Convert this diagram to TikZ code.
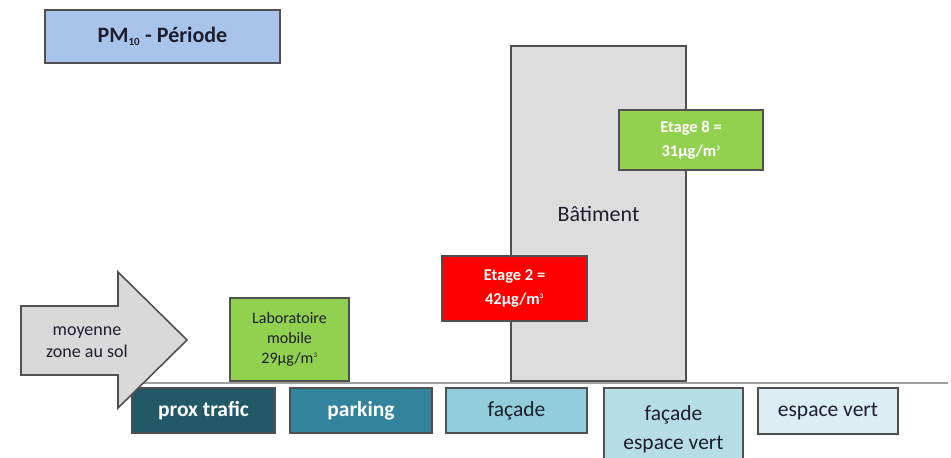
\documentclass[tikz,border=0pt]{standalone}
\usepackage{fontspec}
\setmainfont{Carlito}
\definecolor{pmblue}{RGB}{169,196,235}
\definecolor{batgray}{RGB}{221,221,221}
\definecolor{arrowgray}{RGB}{217,217,217}
\definecolor{edgegray}{RGB}{80,80,80}
\definecolor{groundgray}{RGB}{160,160,160}
\definecolor{labgreen}{RGB}{146,208,80}
\definecolor{etred}{RGB}{255,0,0}
\definecolor{proxteal}{RGB}{33,89,103}
\definecolor{parkteal}{RGB}{49,132,155}
\definecolor{facblue}{RGB}{146,205,220}
\definecolor{facvblue}{RGB}{183,222,232}
\definecolor{vertblue}{RGB}{218,238,243}
\definecolor{txtdark}{RGB}{30,30,45}
\newcommand{\cubic}{\textsuperscript{\fontsize{7}{7}\selectfont 3}}

\begin{document}
\begin{tikzpicture}[x=1pt,y=1pt]
\tikzstyle{every node}+=[inner sep=0pt]
\tikzstyle{box}=[draw=edgegray, line width=1.6pt, rectangle, align=center, text=txtdark]
\tikzstyle{zone}=[box, minimum width=142pt, minimum height=45pt, font=\fontsize{21.5}{29}\selectfont]
\useasboundingbox (0,0) rectangle (951,-458);
% title
\node [box, fill=pmblue, minimum width=235pt, minimum height=53pt, font=\fontsize{22}{26}\selectfont\bfseries] (titre) at (162.5,-36.5) {PM\textsubscript{\fontsize{11}{11}\selectfont 10} - Période};
% ground
\draw [groundgray, line width=2pt] (130,-383) -- (948,-383);
% building
\node [box, fill=batgray, minimum width=175pt, minimum height=335pt, font=\fontsize{22}{26}\selectfont] (batiment) at (598.5,-213.5) {Bâtiment};
\node [box, fill=labgreen, text=white, minimum width=144pt, minimum height=60pt, font=\fontsize{16.5}{24}\selectfont\bfseries] (etage8) at (691,-140) {Etage 8 =\\31µg/m\cubic};
\node [box, fill=etred, text=white, minimum width=145pt, minimum height=65pt, font=\fontsize{16.5}{24}\selectfont\bfseries] (etage2) at (514.5,-288.5) {Etage 2 =\\42µg/m\cubic};
\node [box, fill=labgreen, minimum width=119pt, minimum height=83pt, font=\fontsize{16}{20}\selectfont] (labo) at (289.5,-339.5) {Laboratoire\\mobile\\29µg/m\cubic};
% zones
\node [zone, fill=proxteal, text=white, minimum width=143pt, font=\fontsize{21.5}{29}\selectfont\bfseries] (prox) at (203.5,-410.5) {prox trafic};
\node [zone, fill=parkteal, text=white, font=\fontsize{21.5}{29}\selectfont\bfseries] (parking) at (361,-410.5) {parking};
\node [zone, fill=facblue, minimum width=141pt] (facade) at (516.5,-410.5) {façade};
\node [zone, fill=facvblue, minimum width=139pt, minimum height=82pt] (facvert) at (673.5,-429) {façade\\espace vert};
\node [zone, fill=vertblue, minimum width=140pt, minimum height=46pt] (vert) at (828,-411) {espace vert};
% arrow
\draw [edgegray, fill=arrowgray, line width=1.6pt] (21,-306) -- (118,-306) -- (118,-272) -- (187,-340) -- (118,-408) -- (118,-375) -- (21,-375) -- cycle;
\node [align=center, text=txtdark, font=\fontsize{18}{22}\selectfont] (moyenne) at (87,-342) {moyenne\\zone au sol};
\end{tikzpicture}
\end{document}
